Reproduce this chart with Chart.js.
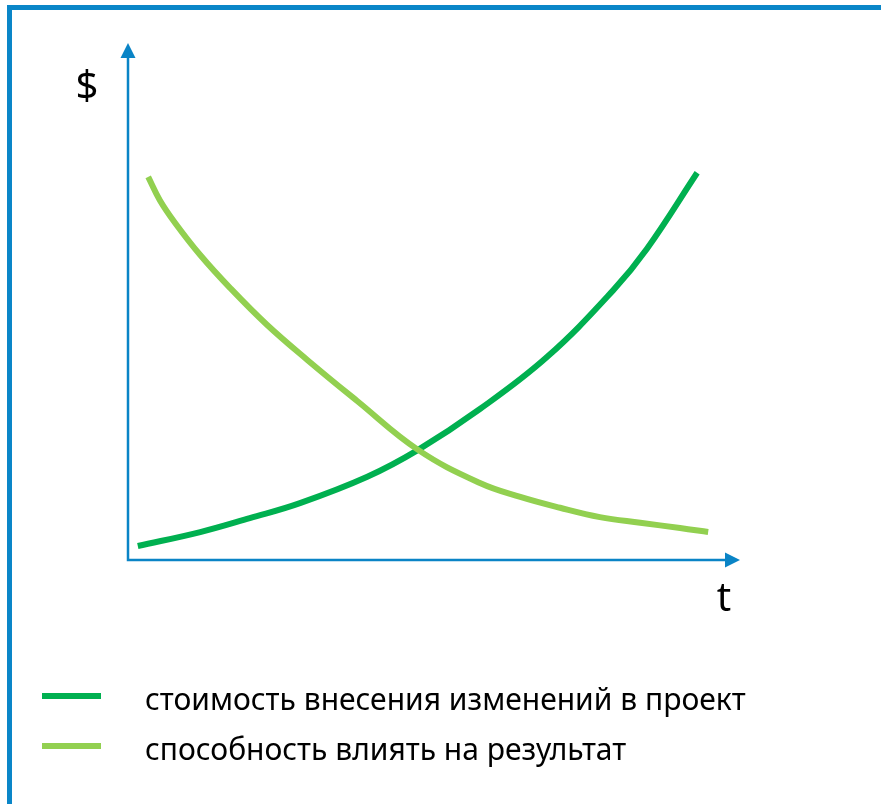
<!DOCTYPE html>
<html lang="ru">
<head>
<meta charset="utf-8">
<title>Стоимость изменений и способность влиять на результат</title>
<script src="https://cdn.jsdelivr.net/npm/chart.js@4.4.1/dist/chart.umd.min.js"></script>
<style>
  html, body { margin: 0; padding: 0; background: #fff; }
  #wrap { position: relative; width: 881px; height: 804px; overflow: hidden; }
  #frame {
    position: absolute; left: 7px; top: 5px; width: 900px; height: 820px;
    border-left: 5px solid #0a86c8; border-top: 5px solid #0a86c8;
    box-sizing: border-box; pointer-events: none;
  }
  canvas { position: absolute; left: 0; top: 0; }
</style>
</head>
<body>
<div id="wrap">
  <canvas id="chart" width="881" height="804"></canvas>
  <div id="frame"></div>
</div>
<script>
  // Подписи серий
  const seriesLabels = [
    "стоимость внесения изменений в проект",
    "способность влиять на результат"
  ];
  const axisTitles = ["$", "t"];

  // стоимость внесения изменений (растёт)
  const costX = [1.6, 11.8, 19.9, 28.1, 39.1, 47.4, 57.5, 68.5, 79.3, 84.8, 93.0];
  const costY = [2.7, 5.4, 8.1, 11.0, 16.1, 21.3, 29.2, 39.3, 52.2, 60.2, 74.9];

  // способность влиять на результат (падает)
  const abilityX = [3.3, 5.2, 7.7, 11.8, 16.7, 22.7, 29.3, 37.4, 47.4, 57.5, 64.1, 70.6, 77.1, 83.7, 90.2, 94.8];
  const abilityY = [74.1, 69.6, 65.2, 59.0, 52.6, 45.5, 38.7, 30.8, 21.3, 14.9, 12.2, 10.1, 8.3, 7.2, 6.2, 5.4];

  const AXIS_COLOR = "#0a84c6";
  const DARK_GREEN = "#00b050";
  const LIGHT_GREEN = "#92d050";
  const FONT = '"Noto Sans", "Open Sans", sans-serif';

  function toPoints(xs, ys) {
    return xs.map((x, i) => ({ x, y: ys[i] }));
  }

  const axesArrows = {
    id: "axesArrows",
    beforeDatasetsDraw(chart) {
      const { ctx, chartArea: a } = chart;
      const head = 15, half = 7.5;
      ctx.save();
      ctx.strokeStyle = AXIS_COLOR;
      ctx.fillStyle = AXIS_COLOR;
      ctx.lineWidth = 2.5;
      ctx.beginPath();
      ctx.moveTo(a.left, a.top + head - 1);
      ctx.lineTo(a.left, a.bottom);
      ctx.lineTo(a.right - head + 1, a.bottom);
      ctx.stroke();

      ctx.beginPath();
      ctx.moveTo(a.left, a.top);
      ctx.lineTo(a.left - half, a.top + head);
      ctx.lineTo(a.left + half, a.top + head);
      ctx.closePath();
      ctx.fill();

      ctx.beginPath();
      ctx.moveTo(a.right, a.bottom);
      ctx.lineTo(a.right - head, a.bottom - half);
      ctx.lineTo(a.right - head, a.bottom + half);
      ctx.closePath();
      ctx.fill();

      ctx.fillStyle = "#000";
      ctx.font = "40px " + FONT;
      ctx.textAlign = "center";
      ctx.textBaseline = "alphabetic";
      ctx.fillText(axisTitles[0], a.left - 41, a.top + 56);
      ctx.fillText(axisTitles[1], a.right - 16, a.bottom + 51);
      ctx.restore();
    }
  };

  const sideLegend = {
    id: "sideLegend",
    afterDraw(chart) {
      const ctx = chart.ctx;
      const sets = chart.data.datasets;
      ctx.save();
      ctx.font = "30px " + FONT;
      const w = ctx.measureText(sets[0].label).width;
      const size = 30 * 601 / w;
      sets.forEach((ds, i) => {
        const y = 696 + i * 50;
        ctx.strokeStyle = ds.borderColor;
        ctx.lineWidth = 6;
        ctx.lineCap = "butt";
        ctx.beginPath();
        ctx.moveTo(42, y);
        ctx.lineTo(101, y);
        ctx.stroke();
        ctx.fillStyle = "#000";
        ctx.font = size.toFixed(2) + "px " + FONT;
        ctx.textAlign = "left";
        ctx.textBaseline = "alphabetic";
        ctx.fillText(ds.label, 145, y + 14);
      });
      ctx.restore();
    }
  };

  new Chart(document.getElementById("chart"), {
    type: "line",
    data: {
      datasets: [
        {
          label: seriesLabels[0],
          data: toPoints(costX, costY),
          borderColor: DARK_GREEN,
          borderWidth: 6,
          pointRadius: 0,
          tension: 0.4,
          order: 2
        },
        {
          label: seriesLabels[1],
          data: toPoints(abilityX, abilityY),
          borderColor: LIGHT_GREEN,
          borderWidth: 6,
          pointRadius: 0,
          tension: 0.4,
          order: 1
        }
      ]
    },
    options: {
      responsive: false,
      animation: false,
      devicePixelRatio: 1,
      clip: false,
      layout: { padding: { left: 128, right: 141, top: 43, bottom: 244 } },
      scales: {
        x: { type: "linear", min: 0, max: 100, display: false },
        y: { type: "linear", min: 0, max: 100, display: false }
      },
      plugins: {
        legend: { display: false },
        tooltip: { enabled: false }
      }
    },
    plugins: [axesArrows, sideLegend]
  });
</script>
</body>
</html>
